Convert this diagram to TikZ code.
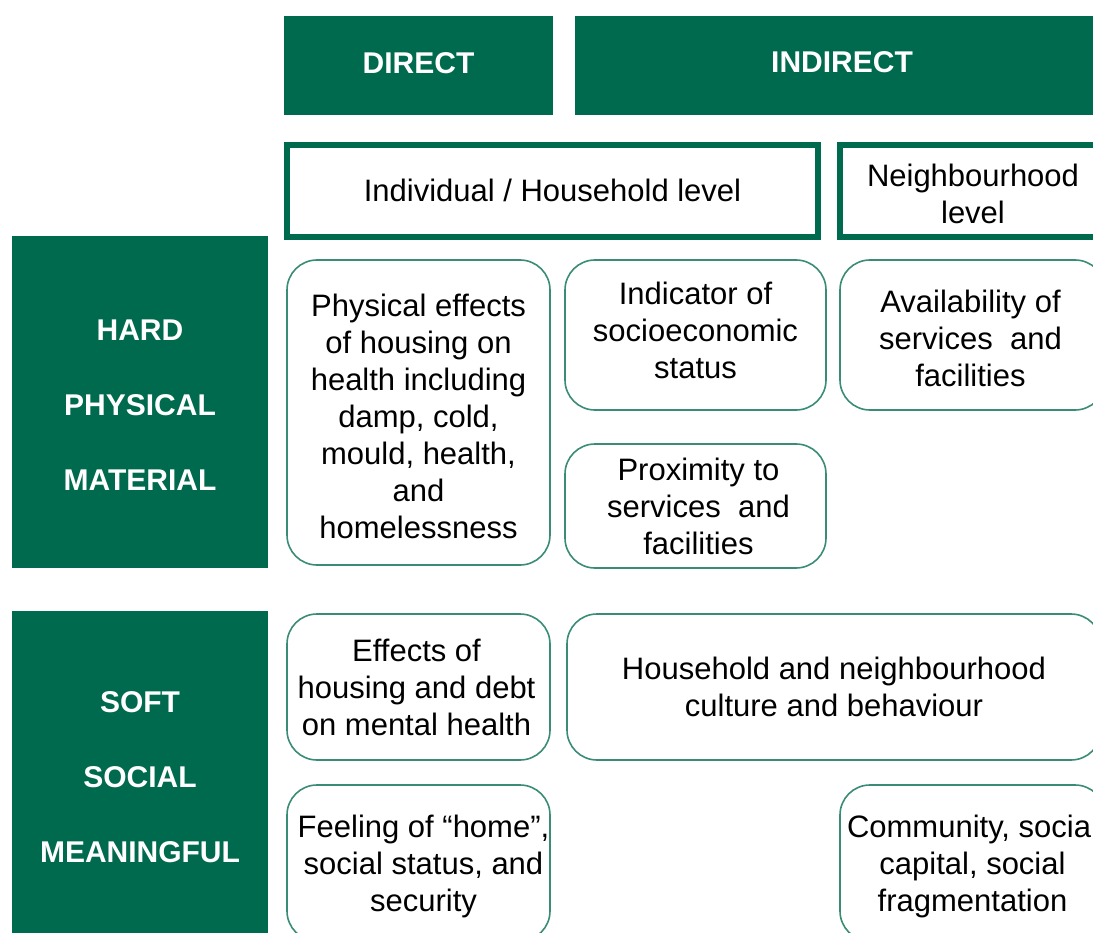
\documentclass[tikz,border=0pt]{standalone}
\usepackage{fontspec}
\setmainfont{Liberation Sans}
\definecolor{dkgreen}{HTML}{006A4E}
\definecolor{lgreen}{HTML}{3A8C76}
\begin{document}
\begin{tikzpicture}[x=1pt,y=-1pt,
  hdr/.style={fill=dkgreen, draw=none, inner sep=0pt, minimum height=99pt},
  hdrtext/.style={text=white, font=\fontsize{30}{36}\selectfont\bfseries, inner sep=0pt},
  side/.style={fill=dkgreen, draw=none, inner sep=0pt, minimum width=256pt, minimum height=332pt},
  sidetext/.style={text=white, font=\fontsize{30}{75}\selectfont\bfseries, align=center, inner sep=0pt},
  lvl/.style={draw=dkgreen, line width=6pt, inner sep=0pt, minimum height=92pt},
  card/.style={draw=lgreen, line width=1.6pt, rounded corners=30pt, inner sep=0pt},
  body/.style={font=\fontsize{31}{37}\selectfont, align=center, inner sep=0pt}]
\useasboundingbox (0,0) rectangle (1093,933);
\clip (0,0) rectangle (1093,933);
\fill[white] (0,0) rectangle (1093,933);
% headers
\node[hdr, minimum width=269pt] (direct) at (418.5,65.5) {};
\node[hdrtext] (direct-t) at ([yshift=2pt]direct.center) {DIRECT};
\node[hdr, minimum width=534pt] (indirect) at (842,65.5) {};
\node[hdrtext] (indirect-t) at ([yshift=3pt]indirect.center) {INDIRECT};
% levels
\node[lvl, minimum width=531pt] (indiv) at (552.5,191) {};
\node[body] (indiv-t) at ([yshift=1pt]indiv.center) {Individual / Household level};
\node[lvl, minimum width=270pt] (neigh) at (975,191) {};
\node[body] (neigh-t) at ([xshift=-2pt,yshift=-3pt]neigh.center) {Neighbourhood\\level};
% side labels
\node[side] (hard) at (140,402) {};
\node[sidetext] (hard-t) at ([yshift=-3pt]hard.center) {HARD\\PHYSICAL\\MATERIAL};
\node[side] (soft) at (140,777) {};
\node[sidetext] (soft-t) at (soft.center) {SOFT\\SOCIAL\\MEANINGFUL};
% cards
\node[card, minimum width=263pt, minimum height=305pt] (phys) at (418.5,412.5) {};
\node[body] (phys-t) at ([yshift=-4pt]phys.center)
  {Physical effects\\of housing on\\health including\\damp, cold,\\mould, health,\\and\\homelessness};
\node[card, minimum width=261pt, minimum height=150pt] (ind) at (695.5,335) {};
\node[body] (ind-t) at ([yshift=5pt]ind.center) {Indicator of\\socioeconomic\\status};
\node[card, minimum width=265pt, minimum height=150pt] (avail) at (972.5,335) {};
\node[body] (avail-t) at ([xshift=-2pt,yshift=-3pt]avail.center) {Availability of\\services\ \ and\\facilities};
\node[card, minimum width=261pt, minimum height=124pt] (prox) at (695.5,506) {};
\node[body] (prox-t) at ([xshift=3pt]prox.center) {Proximity to\\services\ \ and\\facilities};
\node[card, minimum width=263pt, minimum height=146pt] (eff) at (418.5,687) {};
\node[body] (eff-t) at ([xshift=-2pt]eff.center) {Effects of\\housing and debt\\on mental health};
\node[card, minimum width=534pt, minimum height=146pt] (hh) at (834,687) {};
\node[body] (hh-t) at (hh.center) {Household and neighbourhood\\culture and behaviour};
\node[card, minimum width=263pt, minimum height=156pt] (feel) at (418.5,863) {};
\node[body] (feel-t) at ([xshift=5pt,yshift=-3pt]feel.center) {Feeling of “home”,\\social status, and\\security};
\node[card, minimum width=265pt, minimum height=156pt] (comm) at (972.5,863) {};
\node[body] (comm-t) at ([yshift=-3pt]comm.center) {Community, social\\capital, social\\fragmentation};
\end{tikzpicture}
\end{document}
